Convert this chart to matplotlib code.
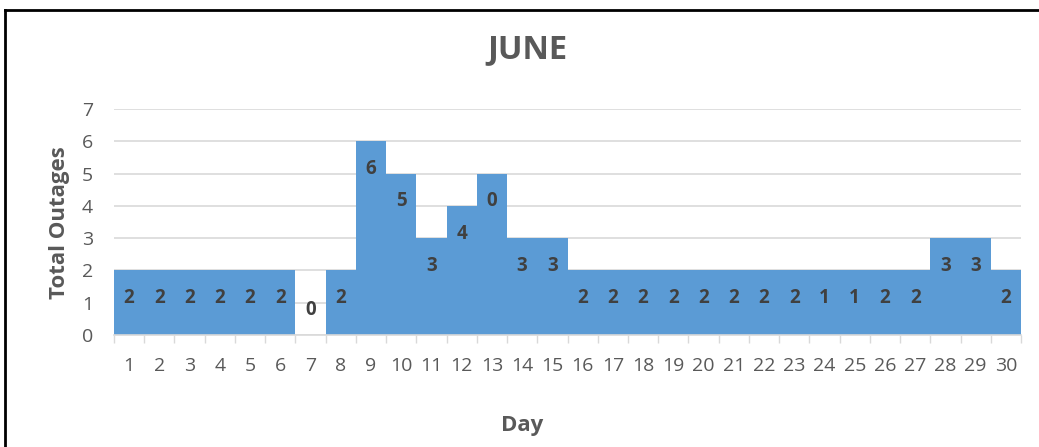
import numpy as np
import matplotlib.pyplot as plt
from matplotlib.lines import Line2D

# june outages per day
days = list(range(1, 31))
outages = [2, 2, 2, 2, 2, 2, 0, 2, 6, 5, 3, 4, 5, 3, 3,
           2, 2, 2, 2, 2, 2, 2, 2, 2, 2, 2, 2, 3, 3, 2]
# data labels as they appear on the chart
labels = [2, 2, 2, 2, 2, 2, 0, 2, 6, 5, 3, 4, 0, 3, 3,
          2, 2, 2, 2, 2, 2, 2, 2, 1, 1, 2, 2, 3, 3, 2]

plt.rcParams['font.family'] = ['Open Sans', 'DejaVu Sans']

W, H = 1039, 447
fig = plt.figure(figsize=(W / 100, H / 100), dpi=100)
ax = fig.add_axes([114 / W, (H - 335) / H, (1021 - 114) / W, (335 - 109) / H])

blue = '#5B9BD5'
grey_txt = '#595959'

ax.bar(days, outages, width=1.0, color=blue, zorder=2)

# labels sit just inside the top of each bar
for d, h, lab in zip(days, outages, labels):
    y = h - 0.86 if h > 0 else 0.77
    ax.text(d, y, str(lab), ha='center', va='center', fontsize=13.5,
            fontweight='bold', color='#404040', zorder=3)

ax.set_xlim(0.5, 30.5)
ax.set_ylim(0, 7)
ax.set_yticks(range(8))
ax.set_xticks(days)
ax.set_xticks(np.arange(0.5, 31, 1), minor=True)
ax.tick_params(axis='x', which='major', length=0, pad=16, labelsize=14, labelcolor=grey_txt)
ax.tick_params(axis='x', which='minor', length=6, width=1, color='#D9D9D9')
ax.tick_params(axis='y', length=0, pad=15, labelsize=14, labelcolor=grey_txt)
ax.grid(axis='y', color='#D9D9D9', linewidth=1.2, zorder=0)
ax.set_axisbelow(True)
for s in ['top', 'right', 'left']:
    ax.spines[s].set_visible(False)
ax.spines['bottom'].set_color('#D9D9D9')
ax.spines['bottom'].set_linewidth(1.2)

fig.text(527 / W, 1 - 50 / H, 'JUNE', ha='center', va='center', fontsize=23.5,
         fontweight='bold', color=grey_txt)
fig.text(522 / W, 1 - 426 / H, 'Day', ha='center', va='center', fontsize=16,
         fontweight='bold', color=grey_txt)
fig.text(60 / W, 1 - 223 / H, 'Total Outages', ha='center', va='center', fontsize=16,
         fontweight='bold', color=grey_txt, rotation=90)

# border around the chart (top and left only visible)
fig.add_artist(Line2D([5 / W, 1], [1 - 10 / H, 1 - 10 / H], color='black', linewidth=2,
                      transform=fig.transFigure))
fig.add_artist(Line2D([5 / W, 5 / W], [0, 1 - 10 / H], color='black', linewidth=2,
                      transform=fig.transFigure))

fig.savefig('out.png', dpi=100)
